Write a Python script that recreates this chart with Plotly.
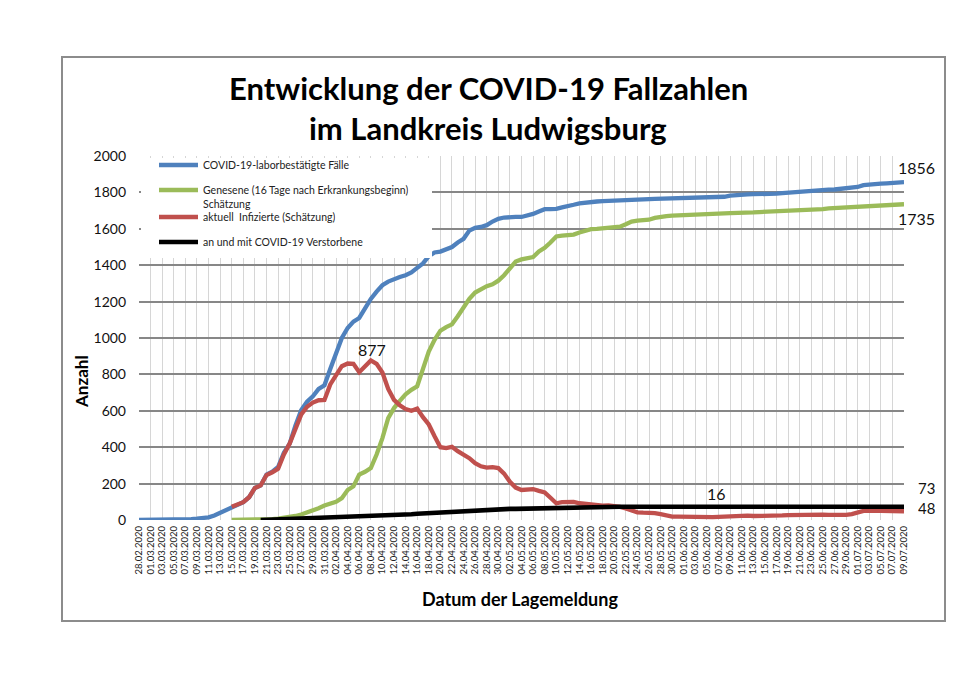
import plotly.graph_objects as go
import pandas as pd

# categories: one report per day, 28.02.2020 .. 09.07.2020
dates = [d.strftime("%d.%m.%Y") for d in pd.date_range("2020-02-28", "2020-07-09", freq="D")]

confirmed = [0, 0, 0, 1, 1, 1, 2, 2, 3, 5, 7, 10, 15, 25, 40, 57,
             73, 85, 98, 125, 176, 190, 250, 266, 291, 370, 420, 520, 605, 650, 680, 720, 740,
             830, 915, 1000, 1055, 1090, 1110, 1165, 1215, 1255, 1290, 1310, 1325, 1335, 1345, 1360, 1385, 1410, 1450,
             1470, 1475, 1485, 1500, 1525, 1545, 1590, 1605, 1610, 1620, 1640, 1655, 1662, 1665, 1665, 1665, 1672, 1682, 1695, 1708,
             1708, 1710, 1718, 1728, 1732, 1740, 1745, 1748, 1750, 1752, 1754, 1755, 1757, 1758, 1760, 1761, 1762, 1763, 1764, 1765,
             1766, 1767, 1768, 1769, 1770, 1771, 1772, 1772, 1773, 1774, 1776, 1782, 1786, 1788, 1789, 1790, 1790, 1791, 1792, 1793,
             1796, 1799, 1801, 1803, 1807, 1810, 1812, 1814, 1815, 1816, 1818, 1822, 1826, 1830, 1840, 1844, 1846, 1848, 1850, 1852, 1854, 1856]

recovered = [None] * 16 + [
             0, 0, 0, 0, 0, 0, 3, 5, 8, 12, 16, 22, 30, 40, 55, 65, 80,
             90, 100, 120, 165, 185, 250, 265, 285, 360, 450, 560, 615, 655, 690, 715, 735, 830, 925,
             990, 1040, 1060, 1075, 1120, 1170, 1215, 1250, 1270, 1285, 1295, 1315, 1345, 1385, 1420, 1432, 1438, 1445, 1475, 1495,
             1525, 1558, 1562, 1565, 1568, 1580, 1592, 1598, 1600, 1602, 1603, 1605, 1612, 1625, 1640, 1645, 1645, 1650, 1660, 1668,
             1670, 1672, 1674, 1676, 1677, 1678, 1680, 1681, 1683, 1684, 1685, 1686, 1686, 1687, 1688, 1690, 1692, 1693, 1694, 1695,
             1696, 1697, 1698, 1699, 1700, 1701, 1703, 1708, 1712, 1714, 1715, 1716, 1717, 1718, 1720, 1722, 1724, 1726, 1728, 1730, 1733, 1735]

infected = [None] * 16 + [
            73, 85, 98, 125, 176, 190, 247, 262, 282, 360, 420, 500, 580, 622, 645, 658, 660,
            745, 800, 845, 860, 858, 812, 845, 877, 858, 810, 720, 660, 630, 610, 600, 612, 565, 525,
            460, 400, 395, 402, 378, 360, 340, 312, 295, 288, 290, 285, 255, 210, 178, 165, 168, 170, 160, 152,
            122, 92, 98, 102, 100, 92, 88, 82, 78, 79, 80, 78, 72, 63, 52, 42, 40, 40, 38, 32,
            24, 19, 18, 17, 16, 16, 16, 16, 16, 17, 19, 20, 22, 22, 24, 22, 22, 21, 22, 22,
            25, 27, 28, 30, 31, 33, 32, 30, 28, 27, 27, 28, 32, 40, 50, 51, 50, 49, 48, 48, 47, 48]

deaths = [None] * 21 + [
          0, 1, 2, 3, 4, 5, 6, 7, 8, 9, 10, 11,
          12, 13, 15, 16, 17, 18, 19, 20, 22, 24, 26, 27, 28, 30, 32, 34, 36, 38,
          40, 42, 43, 45, 46, 48, 50, 51, 54, 57, 59, 60, 60, 61, 61, 62, 62, 62, 63, 63,
          63, 64, 64, 64, 65, 66, 67, 69, 72, 73, 73, 73, 73, 73, 73, 73, 73, 73, 73, 73] + [73] * 42

series_names = ["COVID-19-laborbestätigte Fälle",
                "Genesene (16 Tage nach Erkrankungsbeginn)<br>Schätzung",
                "aktuell  Infizierte (Schätzung)",
                "an und mit COVID-19 Verstorbene"]
series_colors = ["#4F81BD", "#9BBB59", "#C0504D", "#000000"]
series_values = [confirmed, recovered, infected, deaths]
y_ticks = list(range(0, 2001, 200))

FONT = "Lato"

fig = go.Figure()
for name, col, vals in zip(series_names, series_colors, series_values):
    fig.add_trace(go.Scatter(x=dates, y=vals, mode="lines", name=name,
                             line=dict(color=col, width=4.6 if col == "#000000" else 4.3),
                             showlegend=False, connectgaps=False))

# plot area in reference pixels: x 139..904, y 156..520
def px(x):
    return (x - 139) / 765.0

def py(y):
    return (520 - y) / 364.0

shapes = []
# outer frame
shapes.append(dict(type="rect", xref="paper", yref="paper", x0=px(62), x1=px(945), y0=py(621), y1=py(57),
                   line=dict(color="#8c8c8c", width=2), fillcolor="rgba(0,0,0,0)", layer="below"))
# legend box
shapes.append(dict(type="rect", xref="paper", yref="paper", x0=px(141), x1=px(432), y0=py(258), y1=py(158),
                   line=dict(width=0), fillcolor="white", layer="above"))
annotations = []
legend_y = [165, 190, 217, 242]
leg_font = dict(family=FONT, size=10.5, color="#222")
for name, col, ly in zip(series_names, series_colors, legend_y):
    shapes.append(dict(type="line", xref="paper", yref="paper", x0=px(159), x1=px(198), y0=py(ly), y1=py(ly),
                       line=dict(color=col, width=4.5), layer="above"))
    parts = name.split("<br>")
    for k, part in enumerate(parts):
        annotations.append(dict(xref="paper", yref="paper", x=px(201), y=py(ly + 14 * k), text=part, showarrow=False,
                                xanchor="left", yanchor="middle", font=leg_font, height=12))

lbl_font = dict(family=FONT, size=16, color="#111")
end_font = dict(family=FONT, size=15, color="#111")
last = dates[-1]
annotations += [
    dict(x=last, y=confirmed[-1], text=str(confirmed[-1]), showarrow=False, xanchor="center", yanchor="middle",
         xshift=12, yshift=15, font=lbl_font),
    dict(x=last, y=recovered[-1], text=str(recovered[-1]), showarrow=False, xanchor="center", yanchor="middle",
         xshift=12, yshift=-14, font=lbl_font),
    dict(x=last, y=deaths[-1], text=str(deaths[-1]), showarrow=False, xanchor="center", yanchor="middle",
         xshift=22, yshift=19, font=end_font, height=15),
    dict(x=last, y=infected[-1], text=str(infected[-1]), showarrow=False, xanchor="center", yanchor="middle",
         xshift=22, yshift=4, font=end_font, height=15),
]
peak_i = max(range(len(infected)), key=lambda i: infected[i] if infected[i] is not None else -1)
annotations.append(dict(x=dates[peak_i], y=infected[peak_i], text=str(infected[peak_i]), showarrow=False,
                        xanchor="center", yanchor="middle", xshift=1, yshift=11, font=lbl_font))
min_i = 99
annotations.append(dict(x=dates[min_i], y=infected[min_i], text=str(infected[min_i]), showarrow=False,
                        xanchor="center", yanchor="middle", xshift=4, yshift=24, font=lbl_font))

# titles
annotations.append(dict(xref="paper", yref="paper", x=px(488), y=py(88),
                        text="<b>Entwicklung der COVID-19 Fallzahlen</b>", showarrow=False,
                        xanchor="center", yanchor="middle", font=dict(family=FONT, size=31, color="black")))
annotations.append(dict(xref="paper", yref="paper", x=px(488), y=py(128),
                        text="<b>im Landkreis Ludwigsburg</b>", showarrow=False,
                        xanchor="center", yanchor="middle", font=dict(family=FONT, size=31, color="black")))
annotations.append(dict(xref="paper", yref="paper", x=px(520), y=py(599),
                        text="<b>Datum der Lagemeldung</b>", showarrow=False,
                        xanchor="center", yanchor="middle", font=dict(family=FONT, size=18, color="black")))
annotations.append(dict(xref="paper", yref="paper", x=px(81), y=py(382),
                        text="<b>Anzahl</b>", showarrow=False, textangle=-90,
                        xanchor="center", yanchor="middle", font=dict(family=FONT, size=17, color="black")))

# the page body adds an 8px offset, so the figure is 8px smaller and margins shifted
fig.update_layout(
    width=952, height=670,
    margin=dict(l=131, r=56, t=148, b=158),
    paper_bgcolor="white", plot_bgcolor="white",
    font=dict(family=FONT, color="black"),
    shapes=shapes, annotations=annotations,
    showlegend=False,
)
fig.update_xaxes(type="category", categoryorder="array", categoryarray=dates,
                 range=[0, len(dates) - 1],
                 tickmode="array", tickvals=dates[::2], ticktext=dates[::2], tickangle=-90,
                 tickfont=dict(family=FONT, size=9.5, color="#222"),
                 showgrid=True, gridcolor="#d6d6d6", gridwidth=1,
                 showline=False, zeroline=False, ticks="", ticklabelstandoff=3)
fig.update_yaxes(range=[0, 2000], tickmode="array", tickvals=y_ticks,
                 tickfont=dict(family=FONT, size=14, color="#111"),
                 showgrid=True, gridcolor="#878787", gridwidth=1.6,
                 zeroline=False, showline=False, ticks="", ticklabelstandoff=12)

fig.write_html("out.html")
